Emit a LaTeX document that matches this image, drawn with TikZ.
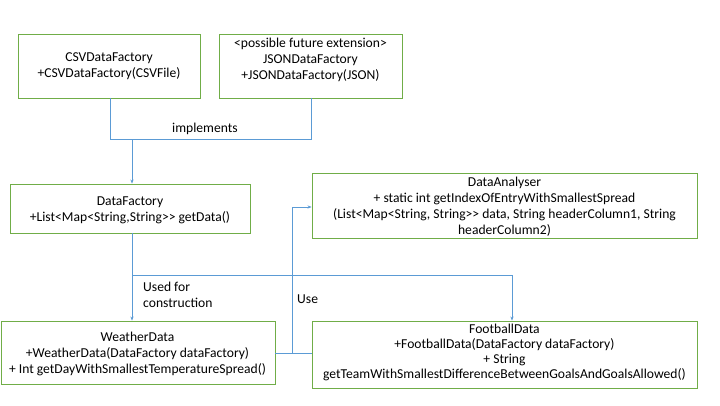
\documentclass[tikz,border=0pt]{standalone}
\usepackage{fontspec}
\setmainfont{Carlito}
\usetikzlibrary{arrows.meta}
\definecolor{boxgreen}{HTML}{70AD47}
\definecolor{linkblue}{HTML}{5B9BD5}
\begin{document}
\begin{tikzpicture}[x=1pt,y=-1pt,
  box/.style={draw=boxgreen,line width=0.9pt,rectangle,inner sep=0pt},
  txt/.style={align=center,font=\fontsize{13.6}{16}\selectfont,inner sep=0pt,text=black},
  lbl/.style={align=left,font=\fontsize{13.6}{16}\selectfont,inner sep=0pt,text=black},
  link/.style={draw=linkblue,line width=0.8pt},
  arr/.style={link,-{Stealth[length=4pt,width=3.2pt]}}]
\useasboundingbox (0,0) rectangle (720,405);
\fill[white] (0,0) rectangle (720,405);
% boxes
\node[box,minimum width=182pt,minimum height=64pt] (csv) at (109,66) {};
\node[box,minimum width=183pt,minimum height=64pt] (json) at (310.5,66) {};
\node[box,minimum width=240pt,minimum height=49pt] (df) at (130,208.5) {};
\node[box,minimum width=385pt,minimum height=65pt] (da) at (504.5,205.5) {};
\node[box,minimum width=274pt,minimum height=63pt] (wd) at (138,352.5) {};
\node[box,minimum width=385pt,minimum height=67pt] (fd) at (504.5,354.5) {};
% texts
\node[txt] (csvt) at (109,66) {CSVDataFactory\\+CSVDataFactory(CSVFile)};
\node[txt] (jsont) at (310.5,59.5) {<possible future extension>\\JSONDataFactory\\+JSONDataFactory(JSON)};
\node[txt] (dft) at (130,210) {DataFactory\\+List<Map<String,String>{>} getData()};
\node[txt] (dat) at (504.5,207) {DataAnalyser\\+ static int getIndexOfEntryWithSmallestSpread\\(List<Map<String, String>{>} data, String headerColumn1, String\\headerColumn2)};
\node[txt] (wdt) at (137.5,353.5) {WeatherData\\+WeatherData(DataFactory dataFactory)\\+ Int getDayWithSmallestTemperatureSpread()};
\node[txt,font=\fontsize{13.6}{15.2}\selectfont] (fdt) at (504.5,352.5) {FootballData\\+FootballData(DataFactory dataFactory)\\+ String\\getTeamWithSmallestDifferenceBetweenGoalsAndGoalsAllowed()};
% coordinates
\coordinate (j1) at (110,139);
\coordinate (j2) at (311,139);
\coordinate (j3) at (132,139);
\coordinate (j4) at (132,275);
\coordinate (j5) at (512,275);
\coordinate (j6) at (292,353);
\coordinate (j7) at (292,207);
% connectors
\draw[link] (csv.south -| j1) -- (j1) -- (j2) -- (json.south -| j2);
\draw[arr] (j3) -- (df.north -| j3);
\draw[arr] (df.south -| j3) -- (wd.north -| j3);
\draw[arr] (j4) -- (j5) -- (fd.north -| j5);
\draw[link] (wd.east |- j6) -- (fd.west |- j6);
\draw[arr] (j6) -- (j7) -- (da.west |- j7);
% labels
\node[txt] (limpl) at (205,129) {implements};
\node[lbl,anchor=west] (lused) at (143,294.5) {Used for\\construction};
\node[lbl,anchor=west] (luse) at (297,299) {Use};
\end{tikzpicture}
\end{document}
